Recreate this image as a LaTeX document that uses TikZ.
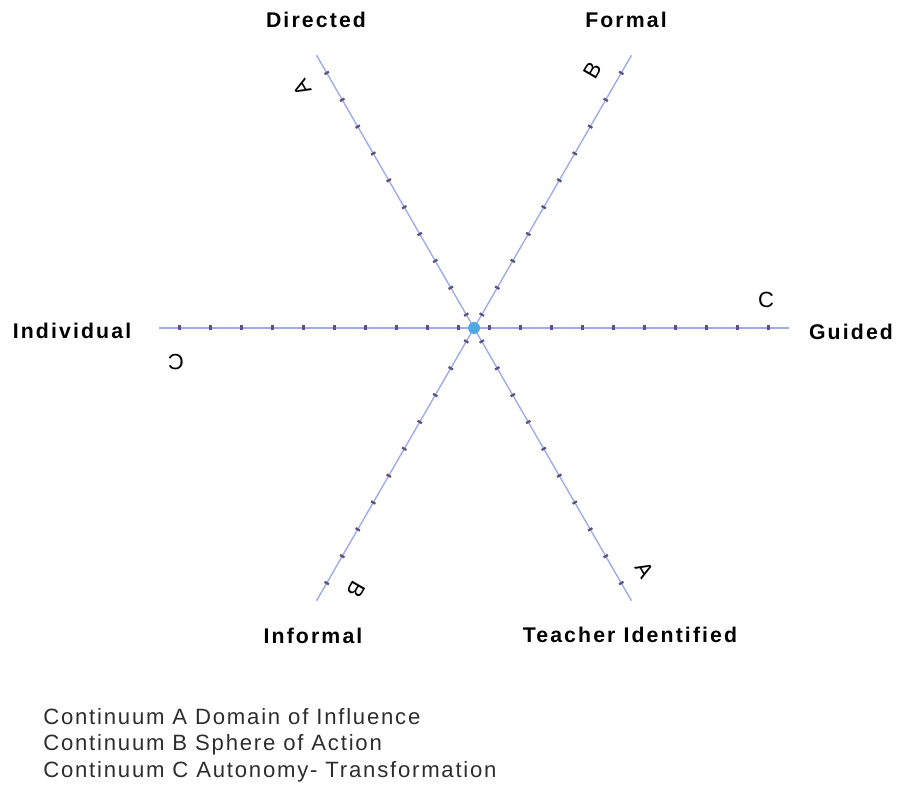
\documentclass[tikz,border=0pt]{standalone}
\usepackage{fontspec}
\usepackage{tikz}
\usetikzlibrary{calc}
\setmainfont{Liberation Sans}[LetterSpace=10]
\newfontfamily\keyfont{Liberation Sans}[LetterSpace=8]
\definecolor{axisblue}{RGB}{160, 172, 230}
\definecolor{tickpurple}{RGB}{95, 80, 130}
\definecolor{dotblue}{RGB}{80, 170, 225}
\definecolor{legendgray}{RGB}{45, 45, 45}

\begin{document}
\begin{tikzpicture}[x=0.02cm, y=-0.02cm,
    axisline/.style={axisblue, line width=0.8pt},
    tickmark/.style={tickpurple, line width=1.3pt},
    pole/.style={font=\fontsize{12.1}{14}\selectfont\bfseries},
    letter/.style={font=\fontsize{12.5}{14}\selectfont, inner sep=0pt},
    legend/.style={font=\keyfont\fontsize{12.6}{15}\selectfont, text=legendgray, anchor=west, inner sep=0pt}]
  \useasboundingbox (0,0) rectangle (899,790);
  \coordinate (O) at (474,328);

  % the three continua
  \foreach \ang/\nm in {0/c, 60/a, 120/b} {
    \coordinate (\nm1) at ($(O)+(\ang:-315)$);
    \coordinate (\nm2) at ($(O)+(\ang:315)$);
    \draw[axisline] (\nm1) -- (\nm2);
    \foreach \k in {0,...,9} {
      \draw[tickmark] ($(O)+(\ang:15.5+31*\k)+(\ang+90:2.5)$) -- ($(O)+(\ang:15.5+31*\k)+(\ang-90:2.5)$);
      \draw[tickmark] ($(O)+(\ang:-15.5-31*\k)+(\ang+90:2.5)$) -- ($(O)+(\ang:-15.5-31*\k)+(\ang-90:2.5)$);
    }
  }
  \fill[dotblue] (O) circle (6);

  % poles
  \node[pole] (directed) at (316,20) {Directed};
  \node[pole] (formal) at (626,20) {Formal};
  \node[pole] (individual) at (72,331) {Individual};
  \node[pole] (guided) at (851,332) {Guided};
  \node[pole] (informal) at (313,636) {Informal};
  \node[pole] (teacher) at (630,635) {Teacher Identified};

  % continuum letters
  \node[letter, rotate=120] (atop) at (302,88) {A};
  \node[letter, rotate=-60] (abot) at (645,570) {A};
  \node[letter, rotate=60] (btop) at (593,70) {B};
  \node[letter, rotate=-120] (bbot) at (356,590) {B};
  \node[letter, rotate=180] (cleft) at (176,362) {C};
  \node[letter] (cright) at (766,300) {C};

  % key
  \node[legend] (keya) at (43,717) {Continuum A Domain of Influence};
  \node[legend] (keyb) at (43,745) {Continuum B Sphere of Action};
  \node[legend] (keyc) at (43,772) {Continuum C Autonomy- Transformation};
\end{tikzpicture}
\end{document}
